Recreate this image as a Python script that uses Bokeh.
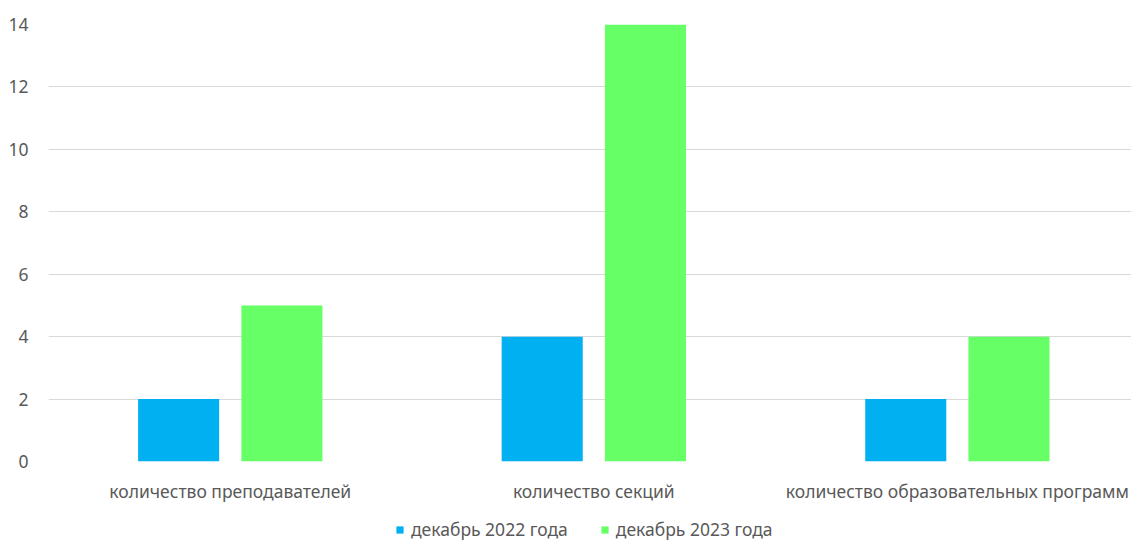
import numpy as np
from bokeh.plotting import figure
from bokeh.layouts import column
from bokeh.models import ColumnDataSource, Range1d, FixedTicker, Legend, LegendItem
from bokeh.transform import dodge
from bokeh.embed import file_html
from bokeh.resources import INLINE

categories = ["количество преподавателей", "количество секций", "количество образовательных программ"]
series_names = ["декабрь 2022 года", "декабрь 2023 года"]
values_2022 = [2, 4, 2]
values_2023 = [5, 14, 4]
y_ticks = [0, 2, 4, 6, 8, 10, 12, 14]
colors = ["#00B0F0", "#66FF66"]

FONT = "Noto Sans"
TXT = "#595959"
FS = "17.5px"

xs = np.arange(len(categories)) + 0.5
src = ColumnDataSource(dict(x=xs, a=values_2022, b=values_2023))

p = figure(width=1131, height=510, output_backend="svg", toolbar_location=None,
           x_range=Range1d(0, 2.979), y_range=Range1d(0, 14),
           min_border_left=48, min_border_right=0, min_border_top=24, min_border_bottom=49)
p.outline_line_color = None

r1 = p.vbar(x=dodge("x", -0.142, range=p.x_range), top="a", width=0.223, source=src,
            fill_color=colors[0], line_color=None)
r2 = p.vbar(x=dodge("x", 0.142, range=p.x_range), top="b", width=0.223, source=src,
            fill_color=colors[1], line_color=None)

for ax in (p.xaxis, p.yaxis):
    ax.axis_line_color = None
    ax.major_tick_line_color = None
    ax.minor_tick_line_color = None
    ax.major_tick_out = 0
    ax.major_tick_in = 0
    ax.minor_tick_out = 0
    ax.major_label_text_font = FONT
    ax.major_label_text_font_size = FS
    ax.major_label_text_color = TXT

p.xaxis.ticker = FixedTicker(ticks=list(xs))
p.xaxis.major_label_overrides = {float(x): c for x, c in zip(xs, categories)}
p.xaxis.major_label_standoff = 17
p.yaxis.ticker = FixedTicker(ticks=y_ticks)
p.yaxis.major_label_standoff = 20

p.xgrid.grid_line_color = None
p.ygrid.grid_line_color = "#d9d9d9"
p.ygrid.grid_line_width = 1

# legend strip (its frame is aligned with the main plot's frame)
lf = figure(width=1131, height=31, output_backend="svg", toolbar_location=None,
            x_range=Range1d(0, 1), y_range=Range1d(0, 1),
            x_axis_location=None, y_axis_location=None,
            min_border_left=48, min_border_right=0, min_border_top=0, min_border_bottom=0)
lf.outline_line_color = None
lf.xgrid.visible = False
lf.ygrid.visible = False
lsrc = ColumnDataSource(dict(x=[5.0], top=[1.0]))
lr1 = lf.vbar(x="x", top="top", width=0.1, source=lsrc, fill_color=colors[0], line_color=None)
lr2 = lf.vbar(x="x", top="top", width=0.1, source=lsrc, fill_color=colors[1], line_color=None)

legend = Legend(items=[LegendItem(label=series_names[0], renderers=[lr1]),
                       LegendItem(label=series_names[1], renderers=[lr2])],
                orientation="horizontal", location=(347, 0),
                label_text_font=FONT, label_text_font_size=FS, label_text_color=TXT,
                glyph_width=9, glyph_height=9, label_height=20, label_standoff=7, spacing=32,
                border_line_color=None, background_fill_alpha=0, padding=0, margin=0)
lf.add_layout(legend, "center")

layout = column(p, lf, spacing=0)
open("out.html", "w").write(file_html(layout, INLINE))
